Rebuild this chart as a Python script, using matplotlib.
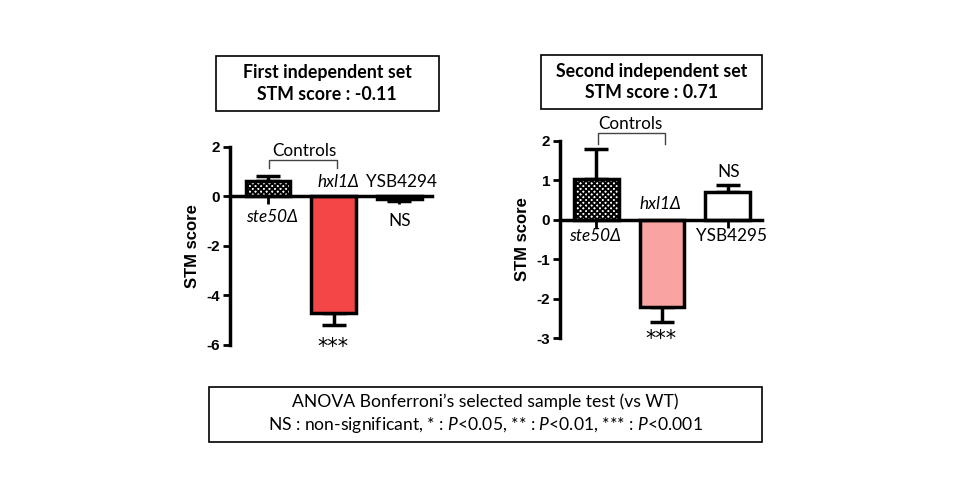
import matplotlib.pyplot as plt
from matplotlib.patches import Rectangle

plt.rcParams['font.family'] = ['Lato', 'DejaVu Sans']
plt.rcParams['mathtext.fontset'] = 'custom'
plt.rcParams['mathtext.rm'] = 'Lato'
plt.rcParams['mathtext.it'] = 'Lato:italic'
plt.rcParams['hatch.linewidth'] = 1.4

# data
strains1 = ['ste50Δ', 'hxl1Δ', 'YSB4294']
scores1 = [0.64, -4.69, -0.12]
errs1 = [0.19, 0.50, 0.06]
signif1 = ['', '***', 'NS']

strains2 = ['ste50Δ', 'hxl1Δ', 'YSB4295']
scores2 = [1.04, -2.21, 0.70]
errs2 = [0.76, 0.37, 0.19]
signif2 = ['', '***', 'NS']

titles = ['First independent set\nSTM score : -0.11',
          'Second independent set\nSTM score : 0.71']

W, H = 960, 500
fig = plt.figure(figsize=(9.6, 5.0), dpi=100)


def px_axes(x0, x1, y0, y1):
    # pixel box -> figure fraction
    return fig.add_axes([x0 / W, 1 - y1 / H, (x1 - x0) / W, (y1 - y0) / H])


def draw_set(ax, strains, scores, errs, colors, ylim, yticks, xlim):
    x = range(len(scores))
    lo = [e if s < 0 else 0 for s, e in zip(scores, errs)]
    hi = [e if s >= 0 else 0 for s, e in zip(scores, errs)]
    bars = ax.bar(x, scores, width=0.68, color=colors, edgecolor='black',
                  linewidth=2.5, zorder=2)
    bars[0].set_hatch('xxxxxx')
    ax.errorbar(x, scores, yerr=[lo, hi], fmt='none', ecolor='black',
                elinewidth=2.5, capsize=8.5, capthick=2.5, zorder=1)
    ax.set_xlim(*xlim)
    ax.set_ylim(*ylim)
    ax.set_yticks(yticks)
    ax.set_yticklabels([str(t) for t in yticks], fontweight='bold',
                       fontsize=11, family='Liberation Sans')
    ax.set_xticks(list(x))
    ax.set_xticklabels([])
    ax.tick_params(axis='x', direction='out', length=6, width=2)
    ax.tick_params(axis='y', direction='out', length=5, width=2, pad=2)
    for s in ['top', 'right']:
        ax.spines[s].set_visible(False)
    ax.spines['bottom'].set_position(('data', 0))
    ax.spines['bottom'].set_linewidth(2.5)
    ax.spines['left'].set_linewidth(2.5)
    ax.set_ylabel('STM score', fontweight='bold', fontsize=12,
                  family='Liberation Sans', labelpad=5)


fs = 12.3

# first set
ax1 = px_axes(230, 432, 147, 345)
draw_set(ax1, strains1, scores1, errs1, ['white', '#F44646', 'white'],
         (-6, 2), [-6, -4, -2, 0, 2], (-0.58, 2.5))
ax1.plot([0.02, 0.02, 1.05, 1.05], [1.15, 1.47, 1.47, 1.15], color='#444444',
         lw=1, clip_on=False)
ax1.text(0.55, 1.85, 'Controls', ha='center', va='center', fontsize=fs)
ax1.text(0.06, -0.82, strains1[0], ha='center', va='center', fontsize=fs, style='italic')
ax1.text(1.07, 0.6, strains1[1], ha='center', va='center', fontsize=fs, style='italic')
ax1.text(2.04, 0.6, strains1[2], ha='center', va='center', fontsize=fs)
ax1.text(2.0, -0.98, signif1[2], ha='center', va='center', fontsize=fs)
ax1.text(0.99, -6.31, signif1[1], ha='center', va='baseline', fontsize=15,
         family='DejaVu Sans')

# second set
ax2 = px_axes(560, 762, 140.7, 338.3)
draw_set(ax2, strains2, scores2, errs2, ['white', '#F9A3A3', 'white'],
         (-3, 2), [-3, -2, -1, 0, 1, 2], (-0.55, 2.52))
ax2.plot([0.02, 0.02, 1.04, 1.04], [1.92, 2.19, 2.19, 1.92], color='#444444',
         lw=1, clip_on=False)
ax2.text(0.52, 2.43, 'Controls', ha='center', va='center', fontsize=fs)
ax2.text(-0.02, -0.42, strains2[0], ha='center', va='center', fontsize=fs, style='italic')
ax2.text(0.98, 0.40, strains2[1], ha='center', va='center', fontsize=fs, style='italic')
ax2.text(2.06, -0.42, strains2[2], ha='center', va='center', fontsize=fs)
ax2.text(2.01, 1.2, signif2[2], ha='center', va='center', fontsize=fs)
ax2.text(0.98, -3.17, signif2[1], ha='center', va='baseline', fontsize=15,
         family='DejaVu Sans')


def px_box(x0, x1, y0, y1, text, weight='normal', size=12.5):
    fig.patches.append(Rectangle((x0 / W, 1 - y1 / H), (x1 - x0) / W, (y1 - y0) / H,
                                 transform=fig.transFigure, fill=False,
                                 edgecolor='black', lw=1.2))
    fig.text((x0 + x1) / 2 / W, 1 - (y0 + y1) / 2 / H, text, ha='center',
             va='center', fontsize=size, fontweight=weight, linespacing=1.35)


px_box(215.5, 438.5, 55.5, 111, titles[0], 'bold', 12.8)
px_box(541, 762, 55, 109, titles[1], 'bold', 12.8)
px_box(209, 762, 387, 442,
       'ANOVA Bonferroni\u2019s selected sample test (vs WT)\n'
       'NS : non-significant, * : $P$<0.05, ** : $P$<0.01, *** : $P$<0.001',
       size=12.6)

fig.savefig('out.png', dpi=100)
